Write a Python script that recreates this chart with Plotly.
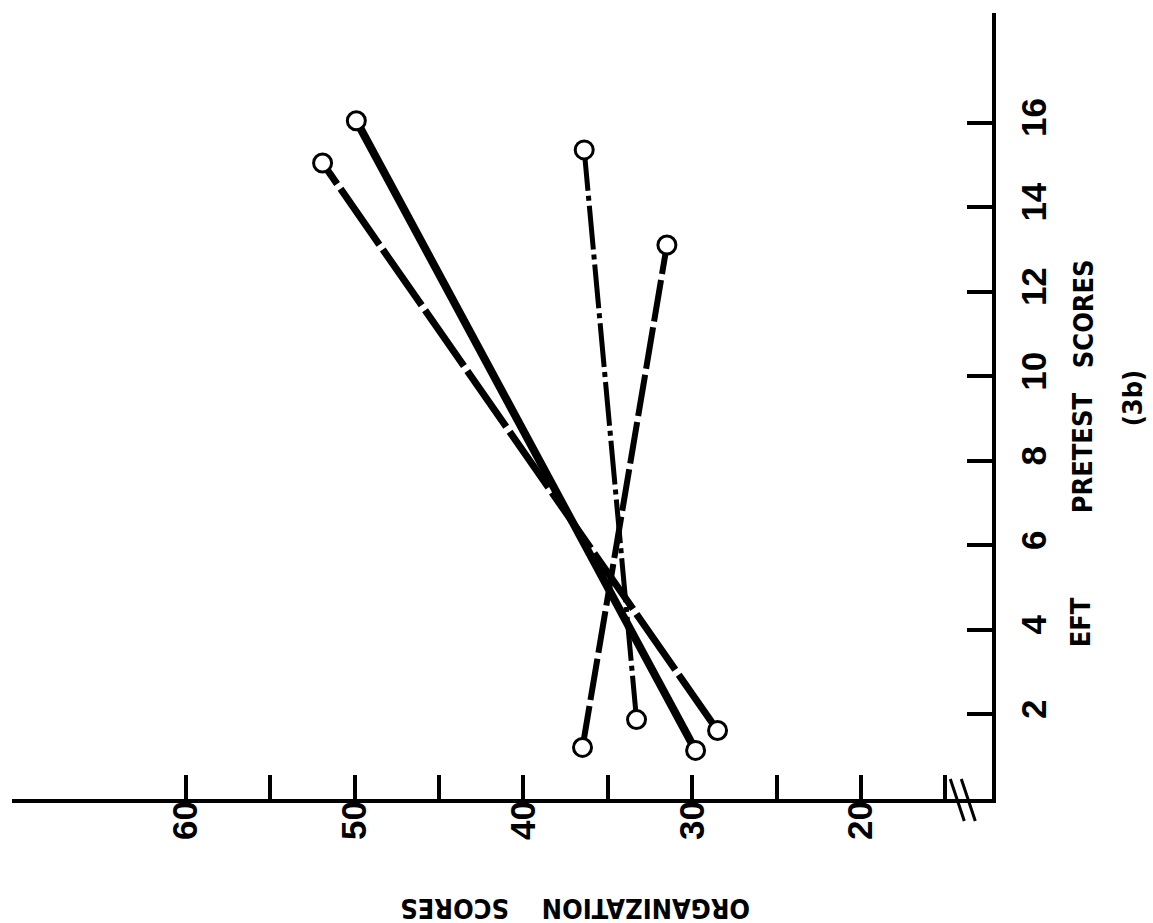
import plotly.graph_objects as go

# ---- data ----
# EFT pretest scores (vertical axis in the rotated figure) vs organization scores
solid_pretest = [1.15, 16.05]
solid_org = [29.8, 49.9]

longdash_pretest = [1.62, 15.05]
longdash_org = [28.5, 51.9]

dashdot_pretest = [1.88, 15.36]
dashdot_org = [33.3, 36.4]

dash_pretest = [1.22, 13.11]
dash_org = [36.5, 31.5]

org_tickvals = [15, 20, 25, 30, 35, 40, 45, 50, 55, 60]
org_ticktext = ["", "20", "", "30", "", "40", "", "50", "", "60"]
pre_tickvals = [2, 4, 6, 8, 10, 12, 14, 16]
pre_ticktext = ["2", "4", "6", "8", "10", "12", "14", "16"]

org_range = [70.3, 12.24]   # reversed: increases to the left
pre_range = [0, 18.6]
break_at = 14.0

series = [
    (solid_org, solid_pretest, "solid", 8),
    (longdash_org, longdash_pretest, "68px,6px", 7),
    (dashdot_org, dashdot_pretest, "44px,5px,5px,5px", 5),
    (dash_org, dash_pretest, "42px,6px", 6),
]

TITLE_FONT = dict(family="DejaVu Sans Condensed, DejaVu Sans, sans-serif",
                  size=27, color="black", weight="bold")
TICK_FONT = dict(family="Liberation Sans, Arial, sans-serif", size=35, color="black", weight="bold")

fig = go.Figure()
for xs, ys, dash, w in series:
    fig.add_trace(go.Scatter(
        x=xs, y=ys, mode="lines+markers",
        line=dict(color="black", width=w, dash=dash),
        marker=dict(symbol="circle", size=18, color="white",
                    line=dict(color="black", width=3)),
        showlegend=False, hoverinfo="skip",
    ))

# axis-break marks on the horizontal axis
for off in (-5, 6):
    fig.add_shape(type="line", xref="x", yref="paper",
                  xsizemode="pixel", ysizemode="pixel",
                  xanchor=break_at, yanchor=0,
                  x0=off + 7, y0=-22, x1=off - 7, y1=20,
                  line=dict(color="black", width=3))

fig.update_xaxes(
    range=org_range, showgrid=False, zeroline=False,
    showline=True, linecolor="black", linewidth=4,
    ticks="inside", ticklen=24, tickwidth=3.5, tickcolor="black",
    tickvals=org_tickvals, ticktext=org_ticktext,
    tickangle=-90, tickfont=TICK_FONT, ticklabelstandoff=-16,
)
fig.update_yaxes(
    range=pre_range, side="right", showgrid=False, zeroline=False,
    showline=True, linecolor="black", linewidth=4,
    ticks="inside", ticklen=25, tickwidth=3.5, tickcolor="black",
    tickvals=pre_tickvals, ticktext=pre_ticktext,
    tickangle=-90, tickfont=TICK_FONT, ticklabelstandoff=8,
)

annots = [
    dict(text="ORGANIZATION", x=0.647, y=-0.14, textangle=180),
    dict(text="SCORES", x=0.451, y=-0.14, textangle=180),
    dict(text="EFT", x=1.09, y=0.225, textangle=-90),
    dict(text="PRETEST", x=1.092, y=0.44, textangle=-90),
    dict(text="SCORES", x=1.093, y=0.617, textangle=-90),
    dict(text="(3b)", x=1.143, y=0.51, textangle=-90),
]
for a in annots:
    fig.add_annotation(xref="paper", yref="paper", showarrow=False,
                       xanchor="center", yanchor="middle", font=TITLE_FONT, **a)

fig.update_layout(
    width=1153, height=923,
    margin=dict(l=12, r=161, t=13, b=124),
    paper_bgcolor="white", plot_bgcolor="white",
)
fig.write_html("out.html")
